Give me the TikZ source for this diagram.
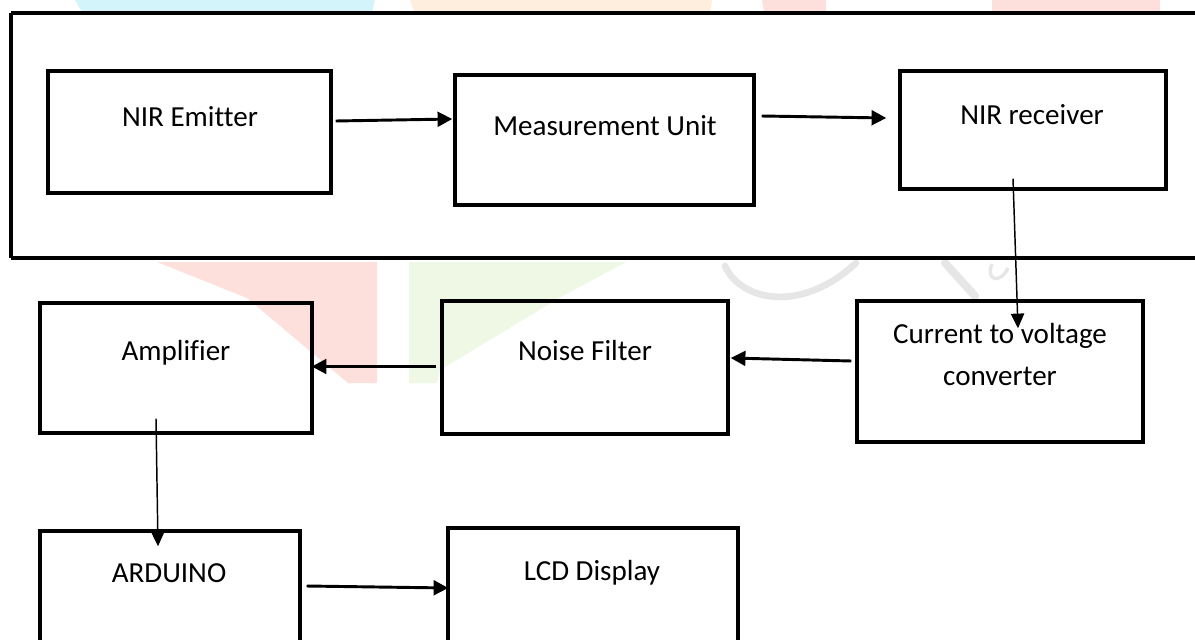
\documentclass[tikz,border=0pt]{standalone}
\usepackage{fontspec}
\setmainfont[Ligatures=NoCommon]{Carlito}
\usetikzlibrary{arrows.meta,fit,calc}
\definecolor{wmcyan}{HTML}{D4F4FB}
\definecolor{wmorange}{HTML}{FDEEDD}
\definecolor{wmred}{HTML}{FDE0DC}
\definecolor{wmgreen}{HTML}{EEF8E4}
\definecolor{wmgray}{HTML}{E6E6E6}
\tikzset{
  blockbox/.style={draw=black, line width=2.6pt, inner sep=0pt, rectangle},
  lbl/.style={anchor=base, inner sep=0pt, font=\fontsize{21.8}{26}\selectfont},
  thickarrow/.style={line width=2.2pt, -{Triangle[length=11pt,width=11pt]}},
  thinarrow/.style={line width=1.1pt, -{Triangle[length=11pt,width=10pt]}},
  frameline/.style={draw=black, line width=3pt}
}
\begin{document}
\begin{tikzpicture}[x=0.75pt,y=-0.75pt]
\useasboundingbox (0,0) rectangle (1195,639);
\fill[white] (0,0) rectangle (1195,639);
% faint watermark
\fill[wmcyan] (75,0) -- (375,0) -- (372,12) -- (82,12) -- cycle;
\fill[wmorange] (410,0) -- (712,0) -- (710,12) -- (414,12) -- cycle;
\fill[wmred] (762,0) -- (826,0) -- (826,12) -- (764,12) -- cycle;
\fill[wmred] (992,0) -- (1160,0) -- (1160,12) -- (992,12) -- cycle;
\fill[wmred] (157,262) -- (377,262) -- (377,383) -- (348,383) -- (247,298) -- cycle;
\fill[wmgreen] (409,262) -- (626,262) -- (559,298) -- (440,370) -- (437,383) -- (409,383) -- cycle;
\draw[wmgray, line width=5pt, line cap=round] (725,266) .. controls (740,300) and (800,315) .. (856,263);
\draw[wmgray, line width=6pt, line cap=round] (945,263) -- (975,296);
\draw[wmgray, line width=2.5pt] (992,264) .. controls (985,280) and (1000,285) .. (1008,268);
% outer frame
\draw[frameline] (11,13) -- (1200,13);
\draw[frameline] (11,258) -- (1200,258);
\draw[frameline] (11,13) -- (11,258);
% blocks
\node[blockbox, fit={(48,71)(331,193)}] (emit) {};
\node[blockbox, fit={(455,75)(754,205)}] (meas) {};
\node[blockbox, fit={(900,71)(1166,189)}] (recv) {};
\node[blockbox, fit={(40,303)(312,433)}] (amp) {};
\node[blockbox, fit={(442,301)(728,434)}] (noise) {};
\node[blockbox, fit={(857,301)(1143,442)}] (conv) {};
\node[blockbox, fit={(40,531)(300,660)}] (ardu) {};
\node[blockbox, fit={(448,528)(738,660)}] (lcd) {};
% labels
\node[lbl] (emitT) at (190,126) {NIR Emitter};
\node[lbl] (measT) at (605,135) {Measurement Unit};
\node[lbl] (recvT) at (1032,124) {NIR receiver};
\node[lbl] (ampT) at (176,360) {Amplifier};
\node[lbl] (noiseT) at (585,360) {Noise Filter};
\node[lbl] (convT1) at (1000,343) {Current to voltage};
\node[lbl] (convT2) at (1000,385) {converter};
\node[lbl] (arduT) at (169,582) {ARDUINO};
\node[lbl] (lcdT) at (592,580) {LCD Display};
% connectors
\draw[thickarrow] ($(emit.east |- 0,121)+(3,0)$) -- ($(meas.west |- 0,119)+(-1,0)$);
\draw[thickarrow] ($(meas.east |- 0,116)+(6,0)$) -- ($(recv.west |- 0,118)+(-12,0)$);
\draw[thinarrow] ($(recv.south)+(-20,-12)$) -- ($(conv.north)+(18,29)$);
\draw[thickarrow] ($(conv.west |- 0,361)+(-4,0)$) -- ($(noise.east |- 0,358)+(1,0)$);
\draw[thickarrow] ($(noise.west |- 0,366.5)+(-4,0)$) -- ($(amp.east |- 0,366.5)+(-2,0)$);
\draw[thinarrow] ($(amp.south)+(-20,-16)$) -- ($(ardu.north)+(-12,17)$);
\draw[thickarrow] ($(ardu.east |- 0,586)+(5,0)$) -- ($(lcd.west |- 0,588)+(2,0)$);
\end{tikzpicture}
\end{document}
